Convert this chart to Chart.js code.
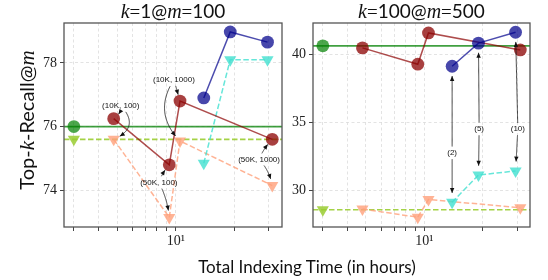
<!DOCTYPE html>
<html>
<head>
<meta charset="utf-8">
<script src="https://cdn.jsdelivr.net/npm/chart.js@4"></script>
<style>
  body { margin: 0; background: #fff; width: 548px; height: 280px; position: relative; overflow: hidden; }
  canvas { position: absolute; top: 0; }
  #xlab { position: absolute; left: 107px; width: 400px; top: 256px; text-align: center; font: 17px Lato, sans-serif; color: #111; }
</style>
</head>
<body>
<canvas id="left" width="290" height="280" style="left:0"></canvas>
<canvas id="right" width="258" height="280" style="left:290px"></canvas>
<div id="xlab">Total Indexing Time (in hours)</div>
<script>
// shared x axis (hours, log scale)
const xRange = [2.67, 35];
const xTicks = [3, 4, 5, 6, 7, 8, 9, 10, 20, 30];
const baseTime = 3.0;
const redTimes = [4.8, 9.25, 10.5, 31.2];
const blueTimes = [13.9, 19.0, 29.5];

// k=1 @ m=100
const k1Base = [76.0, 75.6];
const k1Red = [76.25, 74.8, 76.8, 75.6];
const k1Salmon = [75.6, 73.15, 75.55, 74.15];
const k1Blue = [76.9, 78.97, 78.65];
const k1Cyan = [74.85, 78.1, 78.1];
const k1YTicks = [74, 76, 78];
const k1YRange = [72.85, 79.25];

// k=100 @ m=500
const k100Base = [40.6, 28.55];
const k100Red = [40.45, 39.25, 41.55, 40.3];
const k100Salmon = [28.6, 28.0, 29.3, 28.7];
const k100Blue = [39.1, 40.8, 41.6];
const k100Cyan = [29.1, 31.1, 31.4];
const k100YTicks = [30, 35, 40];
const k100YRange = [27.28, 42.28];

// annotations
const redLabels = ['(10K, 100)', '(50K, 100)', '(10K, 1000)', '(50K, 1000)'];
const redLabelX = [5.22, 8.18, 9.77, 26.7];
const redLabelY = [76.66, 74.25, 77.47, 74.97];
const redCurves = [[0.3, 0.7], [0.1, 0.1], [0, -0.4], [0.1, 0.15]];
const blueLabels = ['(2)', '(5)', '(10)'];
const blueLabelX = [13.9, 19.15, 30.3];
const blueLabelY = [32.72, 34.49, 34.49];

const SANS = 'Lato, "DejaVu Sans", sans-serif';
const SERIF = '"Liberation Serif", "DejaVu Serif", serif';

const pts = (xs, ys) => ys.map((y, i) => ({ x: xs[i], y }));

function drawParts(ctx, parts, cx, cy, rot) {
  ctx.save();
  ctx.translate(cx, cy);
  ctx.rotate(rot);
  ctx.textAlign = 'left';
  ctx.textBaseline = 'alphabetic';
  ctx.fillStyle = '#111';
  let w = 0;
  parts.forEach(p => { ctx.font = p[1]; w += ctx.measureText(p[0]).width; });
  let x = -w / 2;
  parts.forEach(p => { ctx.font = p[1]; ctx.fillText(p[0], x, 6); x += ctx.measureText(p[0]).width; });
  ctx.restore();
}

function arrow(ctx, from, to, rad, hw, hh, shrink) {
  const dx = to[0] - from[0], dy = to[1] - from[1];
  const c = [(from[0] + to[0]) / 2 + rad * dy, (from[1] + to[1]) / 2 - rad * dx];
  const line = [];
  for (let i = 0; i <= 80; i++) {
    const t = i / 80, u = 1 - t;
    const p = [u * u * from[0] + 2 * u * t * c[0] + t * t * to[0], u * u * from[1] + 2 * u * t * c[1] + t * t * to[1]];
    const inBox = Math.abs(p[0] - from[0]) < hw && Math.abs(p[1] - from[1]) < hh;
    const near = Math.hypot(p[0] - to[0], p[1] - to[1]) < shrink;
    if (!inBox && !near) line.push(p);
  }
  if (line.length < 2) return;
  ctx.beginPath();
  line.forEach((p, i) => i ? ctx.lineTo(p[0], p[1]) : ctx.moveTo(p[0], p[1]));
  ctx.stroke();
  const a = line[line.length - 1], b = line[line.length - 2];
  const ang = Math.atan2(a[1] - b[1], a[0] - b[0]);
  ctx.beginPath();
  ctx.moveTo(a[0], a[1]);
  ctx.lineTo(a[0] - 5 * Math.cos(ang) + 2.2 * Math.sin(ang), a[1] - 5 * Math.sin(ang) - 2.2 * Math.cos(ang));
  ctx.lineTo(a[0] - 5 * Math.cos(ang) - 2.2 * Math.sin(ang), a[1] - 5 * Math.sin(ang) + 2.2 * Math.cos(ang));
  ctx.closePath();
  ctx.fill();
}

const notes = {
  id: 'notes',
  afterDatasetsDraw(chart, args, o) {
    const { ctx, scales: { x, y } } = chart;
    ctx.save();
    ctx.font = '8px "Liberation Sans", sans-serif';
    ctx.textAlign = 'center';
    ctx.textBaseline = 'middle';
    ctx.fillStyle = '#111';
    ctx.strokeStyle = '#111';
    ctx.lineWidth = 0.8;
    o.items.forEach(n => {
      const tx = x.getPixelForValue(n.x), ty = y.getPixelForValue(n.y);
      ctx.fillText(n.text, tx, ty);
      const hw = ctx.measureText(n.text).width / 2 + 2;
      n.targets.forEach(t => {
        arrow(ctx, [tx, ty], [x.getPixelForValue(t.x), y.getPixelForValue(t.y)], t.rad, hw, 6, o.shrink);
      });
    });
    ctx.restore();
  }
};

const frame = {
  id: 'frame',
  afterDraw(chart, args, o) {
    const { ctx, chartArea: a } = chart;
    ctx.save();
    ctx.strokeStyle = '#555';
    ctx.lineWidth = 1.3;
    ctx.strokeRect(a.left, a.top, a.right - a.left, a.bottom - a.top);
    drawParts(ctx, o.title, (a.left + a.right) / 2, 12, 0);
    if (o.ylabel) drawParts(ctx, o.ylabel, 28, (a.top + a.bottom) / 2 - 5, -Math.PI / 2);
    ctx.restore();
  }
};

function makeChart(id, s) {
  const hline = (v) => [{ x: xRange[0], y: v }, { x: xRange[1], y: v }];
  new Chart(document.getElementById(id), {
    type: 'line',
    data: {
      datasets: [
        { data: hline(s.base[0]), borderColor: 'rgba(0,128,0,0.75)', borderWidth: 1.6, pointRadius: 0, order: 9 },
        { data: hline(s.base[1]), borderColor: 'rgba(154,205,50,0.9)', borderWidth: 1.6, borderDash: [5.5, 2.5], pointRadius: 0, order: 9 },
        { data: [{ x: baseTime, y: s.base[0] }], showLine: false, pointRadius: 6.4, pointBackgroundColor: 'rgba(0,128,0,0.7)', pointBorderWidth: 0, order: 5 },
        { data: [{ x: baseTime, y: s.base[1] }], showLine: false, pointStyle: 'triangle', pointRotation: 180, pointRadius: 7, pointBackgroundColor: 'rgba(154,205,50,0.85)', pointBorderWidth: 0, order: 5 },
        { data: pts(redTimes, s.salmon), borderColor: 'rgba(255,160,122,0.8)', borderWidth: 1.5, borderDash: [5.5, 2.5], pointStyle: 'triangle', pointRotation: 180, pointRadius: 7, pointBackgroundColor: 'rgba(255,160,122,0.8)', pointBorderWidth: 0, order: 4 },
        { data: pts(blueTimes, s.cyan), borderColor: 'rgba(64,224,208,0.8)', borderWidth: 1.5, borderDash: [5.5, 2.5], pointStyle: 'triangle', pointRotation: 180, pointRadius: 7, pointBackgroundColor: 'rgba(64,224,208,0.8)', pointBorderWidth: 0, order: 3 },
        { data: pts(redTimes, s.red), borderColor: 'rgba(139,0,0,0.7)', borderWidth: 1.5, pointRadius: 6.4, pointBackgroundColor: 'rgba(139,0,0,0.75)', pointBorderWidth: 0, order: 2 },
        { data: pts(blueTimes, s.blue), borderColor: 'rgba(0,0,139,0.7)', borderWidth: 1.5, pointRadius: 6.4, pointBackgroundColor: 'rgba(0,0,139,0.72)', pointBorderWidth: 0, order: 1 }
      ]
    },
    options: {
      responsive: false,
      animation: false,
      devicePixelRatio: 1,
      events: [],
      layout: { padding: { top: 23, right: s.padRight, left: 0, bottom: 0 } },
      plugins: {
        legend: { display: false },
        tooltip: { enabled: false },
        frame: { title: s.title, ylabel: s.ylabel },
        notes: { items: s.notes, shrink: s.shrink }
      },
      scales: {
        x: {
          type: 'logarithmic',
          min: xRange[0],
          max: xRange[1],
          afterBuildTicks: (sc) => { sc.ticks = xTicks.map(v => ({ value: v })); },
          afterFit: (sc) => { sc.height = 53; },
          ticks: { autoSkip: false, maxRotation: 0, padding: 2, color: '#222', font: { family: SERIF, size: 14 }, callback: (v) => v === 10 ? '10¹' : '' },
          grid: { color: '#dcdcdc', lineWidth: 0.8, tickLength: 4, tickColor: '#444', tickWidth: 1 },
          border: { display: false, dash: [3, 2.5] }
        },
        y: {
          min: s.yRange[0],
          max: s.yRange[1],
          afterBuildTicks: (sc) => { sc.ticks = s.yTicks.map(v => ({ value: v })); },
          afterFit: (sc) => { sc.width = s.yWidth; },
          ticks: { padding: 3, color: '#222', font: { family: SERIF, size: 14 } },
          grid: { color: '#dcdcdc', lineWidth: 0.8, tickLength: 4, tickColor: '#444', tickWidth: 1 },
          border: { display: false, dash: [3, 2.5] }
        }
      }
    },
    plugins: [frame, notes]
  });
}

const kItalic = 'italic 20px ' + SERIF;
const eqFont = '19px ' + SERIF;
const tFont = '19px ' + SANS;
const yItalic = 'italic 21px ' + SERIF;
const yFont = '20px ' + SANS;

makeChart('left', {
  base: k1Base, red: k1Red, salmon: k1Salmon, blue: k1Blue, cyan: k1Cyan,
  yTicks: k1YTicks, yRange: k1YRange, yWidth: 64, padRight: 8, shrink: 6.5,
  title: [['k', kItalic], ['=', eqFont], ['1@', tFont], ['m', kItalic], ['=', eqFont], ['100', tFont]],
  ylabel: [['Top-', yFont], ['k', yItalic], ['-Recall@', yFont], ['m', yItalic]],
  notes: redLabels.map((t, i) => ({
    text: t, x: redLabelX[i], y: redLabelY[i],
    targets: [
      { x: redTimes[i], y: k1Red[i], rad: redCurves[i][0] },
      { x: redTimes[i], y: k1Salmon[i], rad: redCurves[i][1] }
    ]
  }))
});

makeChart('right', {
  base: k100Base, red: k100Red, salmon: k100Salmon, blue: k100Blue, cyan: k100Cyan,
  yTicks: k100YTicks, yRange: k100YRange, yWidth: 23, padRight: 18, shrink: 9,
  title: [['k', kItalic], ['=', eqFont], ['100@', tFont], ['m', kItalic], ['=', eqFont], ['500', tFont]],
  ylabel: null,
  notes: blueLabels.map((t, i) => ({
    text: t, x: blueLabelX[i], y: blueLabelY[i],
    targets: [
      { x: blueTimes[i], y: k100Blue[i], rad: 0 },
      { x: blueTimes[i], y: k100Cyan[i], rad: 0 }
    ]
  }))
});
</script>
</body>
</html>
